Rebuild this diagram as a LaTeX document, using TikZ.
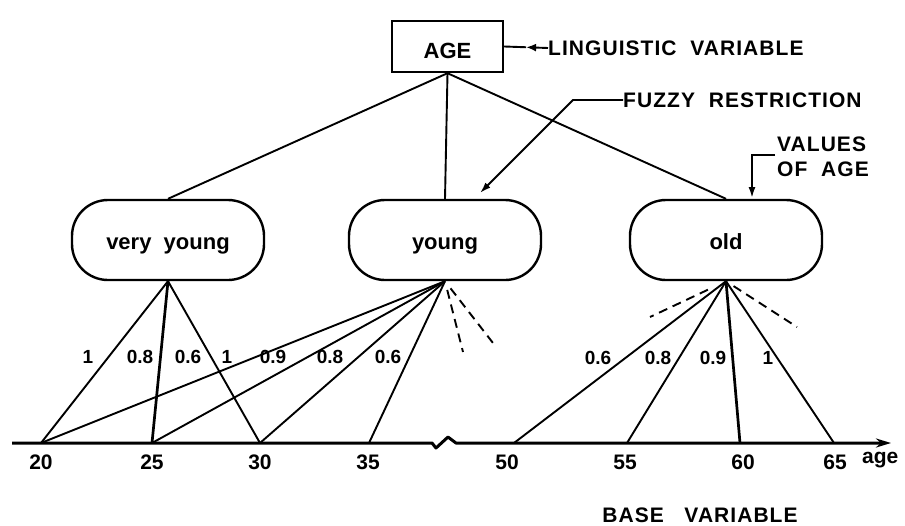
\documentclass[tikz,border=0pt]{standalone}
\usepackage{fontspec}
\setmainfont{Liberation Sans}
\usetikzlibrary{calc,arrows.meta}
\begin{document}
\begin{tikzpicture}[x=1pt,y=-1pt,
  ln/.style={line width=1.9pt},
  thk/.style={line width=2.7pt},
  capt/.style={inner sep=0pt,font=\fontsize{21}{25}\selectfont\bfseries\addfontfeature{LetterSpace=5}},
  num/.style={inner sep=0pt,font=\fontsize{21}{24}\selectfont\bfseries},
  mem/.style={inner sep=0pt,font=\fontsize{19}{22}\selectfont\bfseries},
  agebox/.style={draw,line width=2.4pt,minimum width=111pt,minimum height=51pt,inner sep=0pt,text height=24pt,text depth=0pt,font=\fontsize{22}{24}\selectfont\bfseries},
  valnode/.style={draw,line width=2.4pt,rounded corners=36pt,minimum width=192pt,minimum height=80pt,inner sep=0pt,text height=19pt,text depth=0pt,font=\fontsize{22}{24}\selectfont\bfseries},
  dsh/.style={line width=1.9pt,dash pattern=on 9pt off 6pt,shorten <=9pt}
]
\useasboundingbox (0,0) rectangle (905,525);

% top box and annotations
\node[agebox] (age) at (447.5,46.5) {AGE};
\node[capt,anchor=west] (ling) at (548,48) {LINGUISTIC\ \ VARIABLE};
\coordinate (lm) at ($(age.east)!0.5!(ling.west)$);
\draw[ln] (age.east) -- (lm);
\draw[ln,-{Latex[length=10pt,width=8pt]}] (ling.west) -- (lm);

\node[capt,anchor=west] (fuzzy) at (623,100) {FUZZY\ \ RESTRICTION};
\coordinate (fk) at (573,100);
\coordinate (ft) at (480,193);
\draw[ln,-{Latex[length=11pt,width=7pt]}] (fuzzy.west) -- (fk) -- (ft);

\node[capt,anchor=north west,align=left] (values) at (777,137) {VALUES\\OF\ \ AGE};
\coordinate (vs) at (775,155);
\coordinate (vk) at (752,155);
\coordinate (vt) at (752,198);
\draw[ln,-{Latex[length=11pt,width=7pt]}] (vs) -- (vk) -- (vt);

% value nodes
\node[valnode] (vy) at (168,240) {very\ \ young};
\node[valnode] (yg) at (445,240) {young};
\node[valnode] (old) at (726,240) {old};

\draw[ln] (age.south) -- (vy.north);
\draw[ln] (age.south) -- (yg.north);
\draw[ln] (age.south) -- (old.north);

% base axis
\coordinate (a20) at (41,443);
\coordinate (a25) at (152,443);
\coordinate (a30) at (260,443);
\coordinate (a35) at (369,443);
\coordinate (a50) at (514,443);
\coordinate (a55) at (627,443);
\coordinate (a60) at (740,443);
\coordinate (a65) at (834,443);
\coordinate (ax0) at (12,443);
\coordinate (br1) at (432,443);
\coordinate (br2) at (436,448);
\coordinate (br3) at (448,437);
\coordinate (br4) at (456,443);
\coordinate (ax1) at (891,443);
\draw[line width=3pt,line join=round,-{Stealth[length=15pt,width=9pt]}] (ax0) -- (br1) -- (br2) -- (br3) -- (br4) -- (ax1);

\node[num] (n20) at (41,462) {20};
\node[num] (n25) at (152,462) {25};
\node[num] (n30) at (260,462) {30};
\node[num] (n35) at (368,462) {35};
\node[num] (n50) at (507,462) {50};
\node[num] (n55) at (625,462) {55};
\node[num] (n60) at (743,462) {60};
\node[num] (n65) at (835,462) {65};
\node[num,anchor=west] (agelab) at (862,460) {age};
\node[capt] (base) at (700,515) {BASE\ \ \ VARIABLE};

% membership lines
\draw[ln] (vy.south) -- (a20);
\draw[thk] (vy.south) -- (a25);
\draw[ln] (vy.south) -- (a30);
\foreach \t in {a20,a25,a30,a35} \draw[ln] (yg.south) -- (\t);
\draw[ln] (old.south) -- (a50);
\draw[ln] (old.south) -- (a55);
\draw[thk] (old.south) -- (a60);
\draw[ln] (old.south) -- (a65);

% dashed continuations
\coordinate (yd1) at (463,352);
\coordinate (yd2) at (493,343);
\coordinate (od1) at (650,317);
\coordinate (od2) at (797,327);
\draw[dsh] (yg.south) -- (yd1);
\draw[dsh] (yg.south) -- (yd2);
\draw[dsh,shorten <=20pt] (old.south) -- (od1);
\draw[dsh] (old.south) -- (od2);

% membership grades
\node[mem] (m1) at (88,357) {1};
\node[mem] (m2) at (140,357) {0.8};
\node[mem] (m3) at (188,357) {0.6};
\node[mem] (m4) at (227,357) {1};
\node[mem] (m5) at (273,357) {0.9};
\node[mem] (m6) at (330,357) {0.8};
\node[mem] (m7) at (388,357) {0.6};
\node[mem] (m8) at (598,358) {0.6};
\node[mem] (m9) at (658,358) {0.8};
\node[mem] (m10) at (713,358) {0.9};
\node[mem] (m11) at (768,358) {1};
\end{tikzpicture}
\end{document}
